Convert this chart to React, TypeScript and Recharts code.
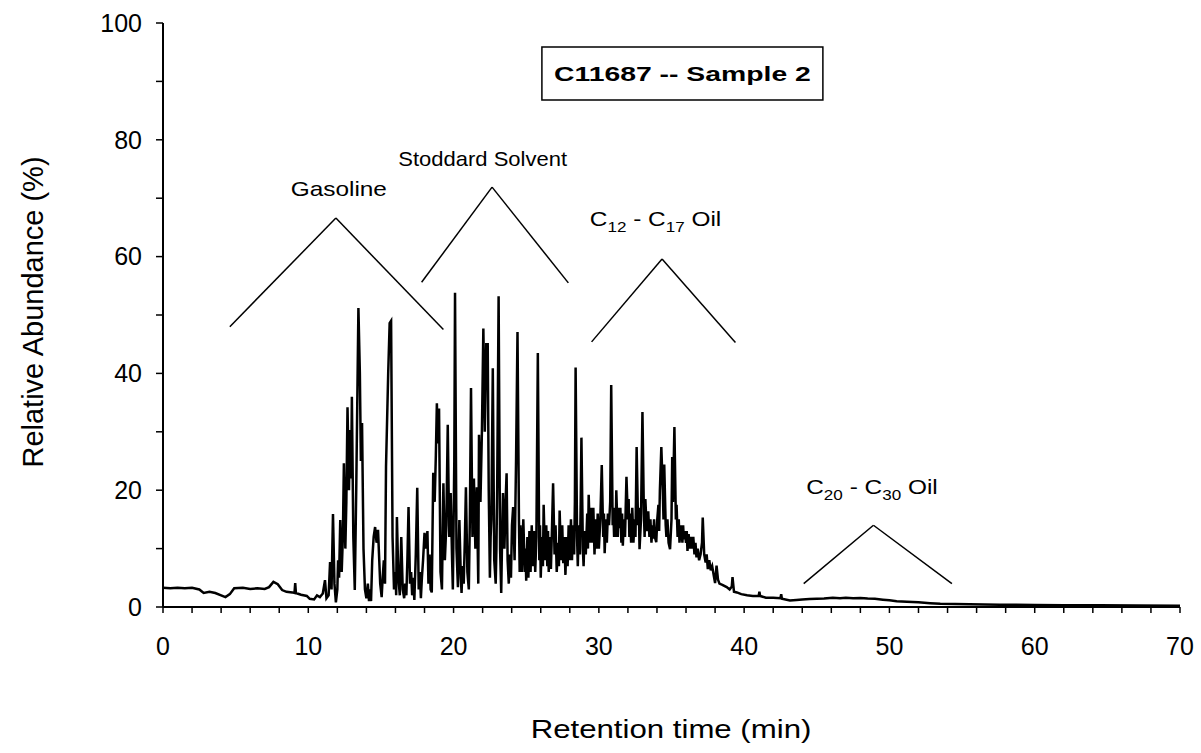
import React from "react";
import {
  LineChart, Line, XAxis, YAxis, ReferenceLine, ReferenceDot, ReferenceArea,
} from "recharts";

// chromatogram trace (retention time in min, abundance in %)
const retentionTime = [
  0, 0.5, 1.0, 1.5, 2.0, 2.5, 2.8, 3.2, 3.6, 4.0, 4.3, 4.6, 4.9, 5.5, 6.0, 6.5, 7.0, 7.3, 7.6, 7.9, 8.2, 8.5, 8.9, 9.05, 9.1, 9.15, 9.5, 9.9, 10.1, 10.4, 10.6, 10.8, 11.0,
  11.15, 11.25, 11.4, 11.5, 11.6, 11.7, 11.8, 11.9, 12.0, 12.05, 12.12, 12.2, 12.3, 12.38, 12.45, 12.55, 12.62, 12.7, 12.8, 12.87, 12.95, 13.0, 13.1, 13.2, 13.3, 13.45, 13.55, 13.62, 13.7, 13.8, 13.9,
  14.0, 14.1, 14.18, 14.25, 14.32, 14.4, 14.5, 14.6, 14.7, 14.8, 14.95, 15.05, 15.12, 15.2, 15.28, 15.35, 15.5, 15.6, 15.7, 15.8, 15.9, 16.0,
  16.05, 16.1, 16.2, 16.3, 16.4, 16.5, 16.6, 16.67, 16.75, 16.82, 16.9, 17.0, 17.08, 17.15, 17.22, 17.3, 17.4, 17.5, 17.6, 17.68, 17.75, 17.82, 17.9, 18.0,
  18.1, 18.2, 18.27, 18.35, 18.42, 18.5, 18.6, 18.7, 18.78, 18.85, 18.92, 19.0, 19.1, 19.2, 19.3, 19.4, 19.5, 19.6, 19.7, 19.8, 19.9, 19.95,
  20.05, 20.1, 20.2, 20.3, 20.4, 20.5, 20.55, 20.62, 20.7, 20.78, 20.85, 20.95, 21.05, 21.12, 21.2, 21.3, 21.4, 21.5, 21.6, 21.7, 21.75, 21.85, 21.95,
  22.05, 22.15, 22.25, 22.35, 22.42, 22.5, 22.55, 22.6, 22.7, 22.8, 22.9, 22.95, 23.0, 23.1, 23.2, 23.28, 23.34, 23.4, 23.5, 23.58, 23.65, 23.72, 23.8, 23.88, 23.95, 24.02,
  24.1, 24.2, 24.3, 24.4, 24.5, 24.55, 24.6, 24.7, 24.75, 24.8, 24.9, 24.95, 25.0, 25.08, 25.15, 25.22, 25.3, 25.38, 25.45, 25.55, 25.62, 25.7, 25.8, 25.9, 25.95, 26.0,
  26.08, 26.15, 26.2, 26.3, 26.38, 26.45, 26.5, 26.55, 26.62, 26.7, 26.78, 26.85, 26.95, 27.02, 27.1, 27.2, 27.25, 27.3, 27.4, 27.48, 27.55, 27.62, 27.7, 27.78, 27.85, 27.92, 28.0,
  28.08, 28.15, 28.22, 28.3, 28.35, 28.4, 28.5, 28.55, 28.62, 28.7, 28.75, 28.8, 28.9, 28.95, 29.02, 29.1, 29.2, 29.25, 29.3, 29.4, 29.48, 29.55, 29.62, 29.7, 29.78, 29.85, 29.92, 30.0,
  30.1, 30.2, 30.3, 30.35, 30.4, 30.48, 30.55, 30.62, 30.7, 30.78, 30.85, 30.95, 31.0, 31.05, 31.1, 31.15, 31.2, 31.3, 31.35, 31.4, 31.48, 31.55, 31.6, 31.65, 31.72, 31.8, 31.9, 32.0,
  32.05, 32.1, 32.15, 32.22, 32.3, 32.38, 32.45, 32.52, 32.6, 32.7, 32.75, 32.8, 32.9, 33.0, 33.1, 33.15, 33.2, 33.3, 33.4, 33.48, 33.55, 33.62, 33.7, 33.75, 33.8, 33.85, 33.95,
  34.02, 34.1, 34.15, 34.2, 34.3, 34.4, 34.45, 34.5, 34.6, 34.65, 34.72, 34.8, 34.9, 35.0, 35.05, 35.1, 35.2, 35.3, 35.35, 35.42, 35.5, 35.55, 35.6, 35.68, 35.75, 35.8, 35.85, 35.92, 36.0,
  36.05, 36.1, 36.18, 36.25, 36.35, 36.42, 36.5, 36.58, 36.65, 36.72, 36.8, 36.9, 37.0, 37.1, 37.15, 37.25, 37.35, 37.42, 37.5, 37.6, 37.7, 37.8, 37.9, 38.0,
  38.1, 38.2, 38.3, 38.5, 38.8, 39.0, 39.15, 39.2, 39.3, 39.5, 39.8, 40.2, 40.6, 41.0, 41.05, 41.1, 41.5, 42.0, 42.5, 42.55, 42.6, 43.15, 43.6, 44.0, 44.5, 45.0, 45.5, 46.1, 46.6, 47.0,
  47.5, 48.0, 48.5, 49.0, 49.55, 50.0, 50.5, 51.2, 52.0, 52.8, 53.5, 54.5, 55.5, 57.6, 60, 62, 64.5, 67, 70,
];
const abundance = [
  3.3, 3.2, 3.3, 3.2, 3.3, 3.0, 2.4, 2.6, 2.4, 2.0, 1.7, 2.2, 3.2, 3.3, 3.1, 3.2, 3.1, 3.4, 4.3, 3.9, 2.9, 2.6, 2.5, 2.4, 4.1, 2.4, 2.1, 1.9, 1.4, 1.3, 2.0, 1.7, 2.3,
  4.6, 1.5, 2.0, 7.7, 3.0, 15.9, 4.0, 0.8, 3, 8, 5, 14.9, 6, 12, 24.6, 10, 18, 34.2, 20, 30.3, 22, 36, 12, 2.9, 20, 51.2, 40, 25, 31.5, 10, 3.0,
  1.5, 4.0, 1.0, 3, 1.0, 8, 12, 13.7, 11, 13.2, 4, 1.7, 5, 8, 4, 24, 40, 48.6, 49, 12, 3, 6,
  2, 15.4, 5, 2, 12, 3, 1.5, 4, 2, 8, 17.1, 4, 6, 2, 5, 1.2, 9, 20.4, 3, 6, 1.5, 5, 8, 12.7,
  10, 13, 4, 9, 3, 2.5, 23, 18, 26, 34.9, 28, 34, 6, 3, 21.2, 8, 14, 31.2, 12, 19.5, 8, 3,
  25, 53.8, 10, 3.4, 14.9, 5, 2.4, 7, 4, 12, 20.5, 6, 3, 15, 37.5, 12, 22, 10, 20.5, 4, 29.5, 18, 30,
  47.7, 30, 45, 45, 20, 5, 12, 15, 40.9, 8, 4, 10, 20, 53.2, 10, 2.4, 12, 19.5, 10, 18, 22.9, 8, 4, 9, 5, 14,
  17.1, 8, 25, 47.1, 15, 6, 14, 6, 11, 15, 6, 10, 4.5, 12, 5, 13, 6, 14, 7, 13, 6, 12, 43.5, 8, 14, 5,
  12, 7, 17.5, 8, 14, 7, 13, 6, 12, 6.5, 14, 21.2, 9, 14, 6, 11, 7, 16.5, 8, 14, 7.5, 12, 5.5, 12, 7, 14, 8,
  15, 8, 14, 9, 18, 41, 12, 7, 14, 9, 18, 29, 10, 7, 13, 9, 16, 10, 19.2, 11, 17, 11, 17, 9, 15, 10, 16, 10,
  15, 24.3, 12, 16, 9.2, 15, 11, 16, 14, 18, 38, 14, 16, 12, 17, 12, 20, 12, 17, 13.5, 17, 11, 16, 10.5, 15, 12, 22.3, 15,
  18.5, 12, 16, 11, 17, 11, 15, 12, 27.4, 14, 17, 9.9, 15, 33.4, 16, 12, 18.5, 13, 16.4, 12, 15, 11, 14, 11.7, 15, 12, 11.1,
  15, 17.5, 13, 20, 27.4, 20, 15, 24.4, 14, 12, 15, 11, 9.9, 15, 25.7, 18, 30.8, 15, 17.5, 12, 15, 11, 12.5, 14, 11, 14, 11.6, 13, 11,
  13, 9.6, 12.5, 10, 12, 10, 12, 9, 11, 8.5, 10, 8, 9, 11, 15.3, 9, 7.6, 9, 6.5, 8, 6.3, 7, 5.5, 4.1,
  7.1, 4.7, 4.0, 3.8, 3.4, 3.0, 3.5, 5.1, 2.6, 2.5, 2.2, 2.0, 1.9, 1.9, 2.6, 1.9, 1.6, 1.6, 1.5, 2.2, 1.4, 1.1, 1.2, 1.3, 1.35, 1.4, 1.45, 1.6, 1.5, 1.6,
  1.5, 1.55, 1.45, 1.4, 1.25, 1.15, 1.0, 0.9, 0.8, 0.65, 0.55, 0.5, 0.45, 0.4, 0.35, 0.3, 0.28, 0.25, 0.2,
];

const xTicks = [0, 2, 4, 6, 8, 10, 12, 14, 16, 18, 20, 22, 24, 26, 28, 30, 32, 34, 36, 38, 40, 42, 44, 46, 48, 50, 52, 54, 56, 58, 60, 62, 64, 66, 68, 70];
const yTicks = [0, 10, 20, 30, 40, 50, 60, 70, 80, 90, 100];

// fuel range markers: "^" shapes (left foot, apex, right foot) plus their labels
const rangeNames = ["Gasoline", "Stoddard Solvent", "C_12_ - C_17_ Oil", "C_20_ - C_30_ Oil"];
const leftX = [4.6, 17.8, 29.5, 44.1];
const leftY = [48, 55.6, 45.4, 4.0];
const apexX = [11.9, 22.65, 34.35, 48.9];
const apexY = [66.6, 71.9, 59.6, 14.0];
const rightX = [19.3, 27.9, 39.4, 54.3];
const rightY = [47.5, 55.5, 45.3, 4.0];
const labelX = [12.1, 22.0, 33.9, 48.8];
const labelY = [71.6, 76.7, 66.4, 20.5];

const titleText = "C11687 -- Sample 2";
const titleBox = { x1: 26.08, x2: 45.42, y1: 86.8, y2: 95.9 };

const FONT = "'Liberation Sans', Arial, Helvetica, sans-serif";
const INK = "#000";

const chartData = retentionTime.map((t, i) => ({ t, a: abundance[i] }));

const SubText = ({ cx, cy, text, size, sx, bold }: any) => {
  const parts = text.split("_");
  const shift = size * 0.3;
  return (
    <text
      transform={`translate(${cx},${cy + size * 0.35}) scale(${sx},1)`}
      textAnchor="middle"
      fontFamily={FONT}
      fontSize={size}
      fontWeight={bold ? "bold" : "normal"}
      fill={INK}
    >
      {parts.map((p: string, i: number) =>
        i % 2 === 1 ? (
          <tspan key={i} fontSize={size * 0.7} dy={shift}>{p}</tspan>
        ) : (
          <tspan key={i} dy={i > 0 ? -shift : 0}>{p}</tspan>
        )
      )}
    </text>
  );
};

const yTitle = () => (
  <text
    transform="translate(33,312) rotate(-90)"
    textAnchor="middle"
    dominantBaseline="central"
    fontFamily={FONT}
    fontSize={29}
    fill={INK}
  >
    Relative Abundance (%)
  </text>
);

const xTitle = () => (
  <text
    transform="translate(671,738) scale(1.2,1)"
    textAnchor="middle"
    fontFamily={FONT}
    fontSize={26}
    fill={INK}
  >
    Retention time (min)
  </text>
);

const App = () => {
  return (
    <div style={{ position: "absolute", left: 0, top: 0, width: 1201, height: 753, background: "#fff" }}>
      <LineChart
        width={1201}
        height={753}
        data={chartData}
        margin={{ top: 23, right: 21, left: 63, bottom: 86 }}
      >
        <XAxis
          dataKey="t"
          type="number"
          domain={[0, 70]}
          ticks={xTicks}
          tickFormatter={(v: number) => (v % 10 === 0 ? String(v) : "")}
          height={60}
          axisLine={{ stroke: INK, strokeWidth: 2 }}
          tickLine={{ stroke: INK, strokeWidth: 1.5 }}
          tickSize={6}
          tickMargin={24}
          tick={{ fill: INK, fontSize: 25, fontFamily: FONT }}
          label={{ content: xTitle }}
        />
        <YAxis
          type="number"
          domain={[0, 100]}
          ticks={yTicks}
          tickFormatter={(v: number) => (v % 20 === 0 ? String(v) : "")}
          width={100}
          axisLine={{ stroke: INK, strokeWidth: 2 }}
          tickLine={{ stroke: INK, strokeWidth: 1.5 }}
          tickSize={7}
          tickMargin={14}
          tick={{ fill: INK, fontSize: 25, fontFamily: FONT }}
          label={{ content: yTitle }}
        />
        <ReferenceArea
          x1={titleBox.x1}
          x2={titleBox.x2}
          y1={titleBox.y1}
          y2={titleBox.y2}
          fill="#fff"
          fillOpacity={1}
          stroke={INK}
          strokeWidth={1.5}
        />
        <ReferenceDot
          x={(titleBox.x1 + titleBox.x2) / 2}
          y={(titleBox.y1 + titleBox.y2) / 2}
          r={0}
          shape={(p: any) => <SubText cx={p.cx} cy={p.cy} text={titleText} size={21} sx={1.35} bold />}
        />
        {rangeNames.map((name, i) => (
          <ReferenceLine
            key={`l${i}`}
            segment={[{ x: leftX[i], y: leftY[i] }, { x: apexX[i], y: apexY[i] }]}
            stroke={INK}
            strokeWidth={1.5}
          />
        ))}
        {rangeNames.map((name, i) => (
          <ReferenceLine
            key={`r${i}`}
            segment={[{ x: apexX[i], y: apexY[i] }, { x: rightX[i], y: rightY[i] }]}
            stroke={INK}
            strokeWidth={1.5}
          />
        ))}
        {rangeNames.map((name, i) => (
          <ReferenceDot
            key={`t${i}`}
            x={labelX[i]}
            y={labelY[i]}
            r={0}
            shape={(p: any) => (
              <SubText cx={p.cx} cy={p.cy} text={name} size={20} sx={i === 1 ? 1.1 : 1.22} />
            )}
          />
        ))}
        <Line
          type="linear"
          dataKey="a"
          stroke={INK}
          strokeWidth={2.5}
          dot={false}
          activeDot={false}
          isAnimationActive={false}
        />
      </LineChart>
    </div>
  );
};

export default App;
